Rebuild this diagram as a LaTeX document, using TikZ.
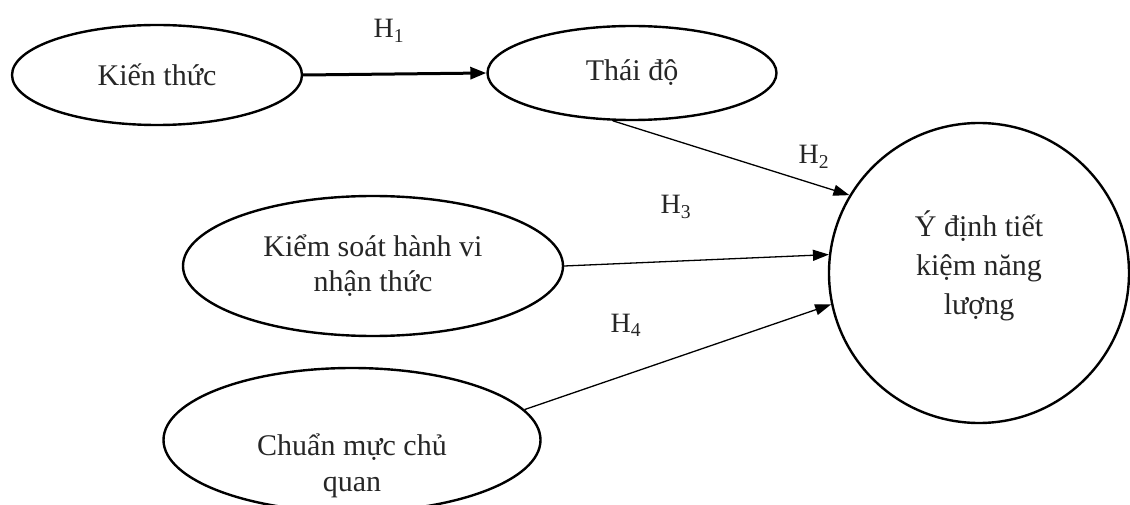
\documentclass[tikz,border=0pt]{standalone}
\usepackage{fontspec}
\setmainfont{Liberation Serif}
\usetikzlibrary{shapes.geometric,arrows.meta}
\tikzset{
  factor/.style={draw=black, line width=2.4pt, ellipse, inner sep=0pt, align=center,
                 font=\fontsize{30}{35}\selectfont, text=black!85},
  target/.style={draw=black, line width=2.4pt, circle, inner sep=0pt, minimum size=300pt,
                 align=center, font=\fontsize{30}{39}\selectfont, text=black!85},
  caption/.style={font=\fontsize{30}{36}\selectfont, text=black!85, inner sep=0pt, align=center},
  hyp/.style={font=\fontsize{28}{30}\selectfont, text=black!85, inner sep=0pt},
  link/.style={line width=1.3pt, -{Triangle[length=16pt,width=11pt]}},
  strong/.style={line width=3pt, -{Triangle[length=16pt,width=12pt]}}
}
\begin{document}
\begin{tikzpicture}[x=1pt,y=-1pt]
  \useasboundingbox (0,0) rectangle (1130,505);

  % factors
  \node[factor, minimum width=290pt, minimum height=100pt] (kt) at (157,75) {Kiến thức};
  \node[factor, minimum width=289pt, minimum height=94pt] (td) at (632,73) {Thái độ};
  \node[factor, minimum width=380pt, minimum height=140pt] (ks) at (373,266)
        {Kiểm soát hành vi\\nhận thức};
  \node[factor, minimum width=377pt, minimum height=144pt] (cm) at (352,440) {};
  \node[caption] (cmtext) at (352,466) {Chuẩn mực chủ\\quan};

  % outcome
  \node[target] (yd) at (979,273) {Ý định tiết\\kiệm năng\\lượng\\[-19pt]};

  % paths
  \draw[strong] (kt.east) -- (td.west);
  \draw[link] (td.-112) -- (yd.149.5);
  \draw[link] (ks.0) -- (yd.173.6);
  \draw[link] (cm.10.3) -- (yd.192.7);

  % hypothesis labels
  \node[hyp] (h1) at (389,31) {H\textsubscript{1}};
  \node[hyp] (h2) at (814,157) {H\textsubscript{2}};
  \node[hyp] (h3) at (676,207) {H\textsubscript{3}};
  \node[hyp] (h4) at (626,325) {H\textsubscript{4}};
\end{tikzpicture}
\end{document}
